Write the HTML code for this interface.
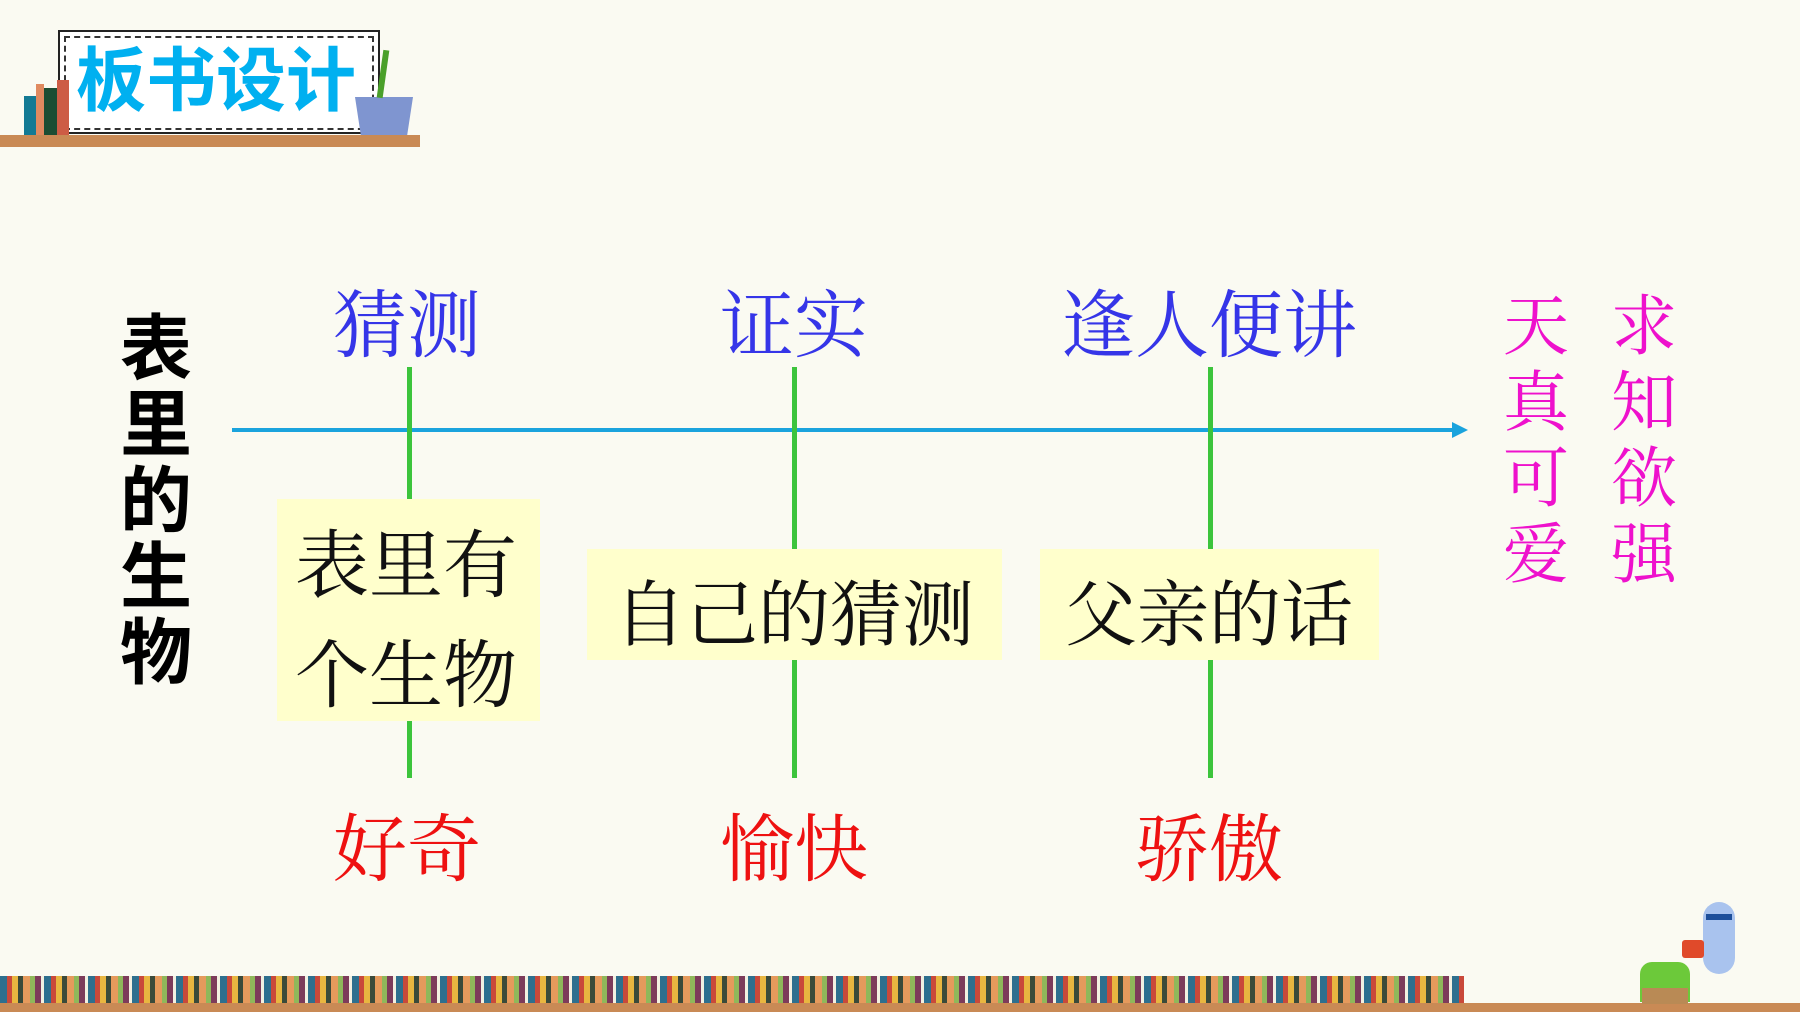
<!DOCTYPE html>
<html><head><meta charset="utf-8"><style>
body{margin:0;width:1800px;height:1012px;overflow:hidden;background:#fafaf2;position:relative;font-family:"Liberation Serif","Noto Serif CJK SC",serif}
.a{position:absolute;white-space:nowrap;line-height:1}
.c{transform:translateX(-50%)}
.blue{color:#3535e8;font-size:74px}
.red{color:#ee1111;font-size:74px}
.mag{color:#ee11cc;font-size:66px}
.g{position:absolute;width:5px;background:#3cc43c}
.box{position:absolute;background:#ffffcc}
.bt{font-size:72px;color:#111}
</style></head><body>
<div class="a" style="left:0;top:135px;width:420px;height:12px;background:#c98a55"></div>
<div class="a" style="left:58px;top:30px;width:322px;height:104px;background:#fff;border:2px solid #222;box-sizing:border-box"></div>
<div class="a" style="left:64px;top:36px;width:310px;height:94px;border:2px dashed #333;box-sizing:border-box"></div>
<div class="a" style="left:24px;top:96px;width:12px;height:39px;background:#137a94"></div>
<div class="a" style="left:36px;top:84px;width:8px;height:51px;background:#e08a60"></div>
<div class="a" style="left:44px;top:88px;width:13px;height:47px;background:#1b4d33"></div>
<div class="a" style="left:57px;top:80px;width:12px;height:55px;background:#cd5c45"></div>
<div class="a" style="left:355px;top:97px;width:58px;height:38px;background:#7f95d0;clip-path:polygon(0 0,100% 0,90% 100%,10% 100%)"></div>
<div class="a" style="left:380px;top:50px;width:6px;height:48px;background:#4aa02a;transform:rotate(8deg)"></div>
<div class="a" style="left:76px;top:46px;font-family:'Liberation Sans','Noto Sans CJK SC',sans-serif;font-size:70px;color:#00b0f0;font-weight:bold">板书设计</div>
<div class="a" style="left:120px;top:312px;width:72px;font-family:'Liberation Sans','Noto Sans CJK SC',sans-serif;font-weight:bold;font-size:72px;line-height:76px;white-space:normal;color:#000">表里的生物</div>
<div class="a" style="left:232px;top:428px;width:1222px;height:4px;background:#1aa3dd"></div>
<div class="a" style="left:1452px;top:422px;width:0;height:0;border-left:16px solid #1aa3dd;border-top:8px solid transparent;border-bottom:8px solid transparent"></div>
<div class="g" style="left:407px;top:367px;height:411px"></div>
<div class="g" style="left:792px;top:367px;height:411px"></div>
<div class="g" style="left:1208px;top:367px;height:411px"></div>
<div class="a c blue" style="left:407px;top:290px">猜测</div>
<div class="a c blue" style="left:794px;top:290px">证实</div>
<div class="a c blue" style="left:1209px;top:290px">逢人便讲</div>
<div class="a c red" style="left:407px;top:814px">好奇</div>
<div class="a c red" style="left:794px;top:814px">愉快</div>
<div class="a c red" style="left:1209px;top:814px">骄傲</div>
<div class="box" style="left:277px;top:499px;width:263px;height:222px"></div>
<div class="a bt" style="left:295px;top:530px;font-size:74px">表里有</div>
<div class="a bt" style="left:295px;top:640px;font-size:74px">个生物</div>
<div class="box" style="left:587px;top:549px;width:415px;height:111px"></div>
<div class="a c bt" style="left:794px;top:580px">自己的猜测</div>
<div class="box" style="left:1040px;top:549px;width:339px;height:111px"></div>
<div class="a c bt" style="left:1209px;top:580px">父亲的话</div>
<div class="a mag" style="left:1503px;top:290px;width:66px;white-space:normal;line-height:76px">天真可爱</div>
<div class="a mag" style="left:1611px;top:290px;width:66px;white-space:normal;line-height:76px">求知欲强</div>
<div class="a" style="left:0;top:976px;width:1464px;height:28px;background:repeating-linear-gradient(90deg,#2e6f8e 0 7px,#c9493a 7px 12px,#e8b640 12px 18px,#3a4a3a 18px 23px,#e59a5c 23px 30px,#8fb85a 30px 35px,#7d3b5a 35px 41px,#f3f0e0 41px 44px)"></div>
<div class="a" style="left:0;top:1003px;width:1800px;height:9px;background:#c98a55"></div>
<div class="a" style="left:1703px;top:902px;width:32px;height:72px;background:#a9c3ee;border-radius:16px"></div>
<div class="a" style="left:1706px;top:914px;width:26px;height:6px;background:#1e4f9a"></div>
<div class="a" style="left:1640px;top:962px;width:50px;height:40px;background:#6cc93a;border-radius:12px 12px 0 0"></div>
<div class="a" style="left:1642px;top:988px;width:46px;height:16px;background:#b98a55"></div>
<div class="a" style="left:1682px;top:940px;width:22px;height:18px;background:#e04a2a;border-radius:3px"></div>
</body></html>
